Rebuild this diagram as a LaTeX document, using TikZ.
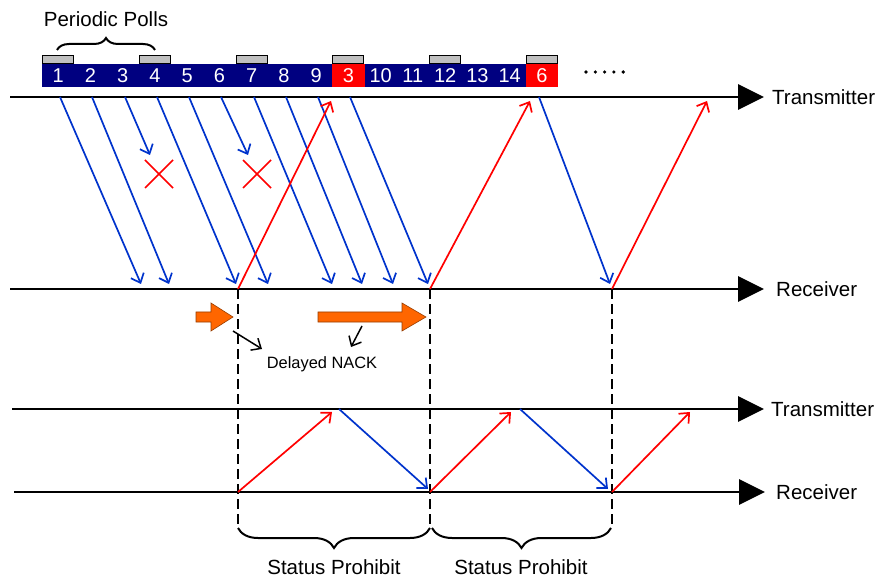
\documentclass[tikz,border=0pt]{standalone}
\usepackage{fontspec}
\setmainfont{Liberation Sans}
\usetikzlibrary{arrows.meta,decorations.pathreplacing}

\definecolor{barblue}{RGB}{0,0,128}
\definecolor{pktred}{RGB}{255,0,0}
\definecolor{pollgray}{RGB}{192,192,192}
\definecolor{msgblue}{RGB}{0,51,204}
\definecolor{nackorange}{RGB}{255,102,0}
\definecolor{nackedge}{RGB}{150,60,0}

\tikzset{
  axis/.style={line width=2.8pt,-{Triangle[length=26pt,width=25pt]}},
  axislabel/.style={anchor=west,inner sep=0pt,font=\fontsize{20.5}{24}\selectfont},
  cell/.style={rectangle,minimum width=32.25pt,minimum height=23pt,inner sep=0pt,
               fill=barblue,text=white,font=\fontsize{20}{23}\selectfont},
  lostcell/.style={cell,fill=pktred},
  pollbox/.style={rectangle,draw=black,line width=0.9pt,fill=pollgray,
                  minimum width=31pt,minimum height=8pt,inner sep=0pt},
  data/.style={draw=msgblue,line width=1.7pt,-{Straight Barb[length=8pt,width=14pt]}},
  status/.style={draw=pktred,line width=1.7pt,-{Straight Barb[length=8pt,width=14pt]}},
  pointer/.style={draw=black,line width=1.5pt,-{Straight Barb[length=8pt,width=14pt]}},
  timer/.style={line width=1.7pt,dash pattern=on 10pt off 5pt},
  lossmark/.style={draw=pktred,line width=1.6pt},
  curly/.style={line width=2pt,decorate,decoration={brace,amplitude=#1}},
  bigtext/.style={font=\fontsize{20.5}{24}\selectfont,inner sep=0pt},
  nacktext/.style={font=\fontsize{16.4}{19}\selectfont,inner sep=0pt},
}

\begin{document}
\begin{tikzpicture}[x=1pt,y=-1pt]
\useasboundingbox (0,0) rectangle (878,577);

% ---- transmission buffer (sequence numbers) ----
\foreach \k/\lab/\sty in {1/1/cell,2/2/cell,3/3/cell,4/4/cell,5/5/cell,6/6/cell,
    7/7/cell,8/8/cell,9/9/cell,10/3/lostcell,11/10/cell,12/11/cell,13/12/cell,
    14/13/cell,15/14/cell,16/6/lostcell}
  \node[\sty] (c\k) at ({42+32.25*(\k-0.5)},75.5) {\lab};

% poll bits on every third PDU
\foreach \k in {1,4,7,10,13,16}
  \node[pollbox,anchor=south] (p\k) at (c\k.north) {};

\node[bigtext] (polls) at (106,19) {Periodic Polls};
\draw[curly=12pt] (57,50) -- (155,50);

\foreach \i/\xx in {1/586,2/595.3,3/604.6,4/613.9,5/623.2}
  \fill (\xx,72) circle (1.8pt);

% ---- time axes ----
\coordinate (tx1a) at (10,97);   \coordinate (tx1b) at (764,97);
\coordinate (rx1a) at (10,289);  \coordinate (rx1b) at (764,289);
\coordinate (tx2a) at (12,409);  \coordinate (tx2b) at (764,409);
\coordinate (rx2a) at (14,492);  \coordinate (rx2b) at (765,492);
\draw[axis] (tx1a) -- (tx1b);
\draw[axis] (rx1a) -- (rx1b);
\draw[axis] (tx2a) -- (tx2b);
\draw[axis] (rx2a) -- (rx2b);
\node[axislabel] (ltx1) at (772,97) {Transmitter};
\node[axislabel] (lrx1) at (776,289) {Receiver};
\node[axislabel] (ltx2) at (771,409) {Transmitter};
\node[axislabel] (lrx2) at (776,492) {Receiver};

% ---- data PDUs, transmitter -> receiver ----
\foreach \n/\sx/\ex in {1/60/141,2/92/169,4/157/236,5/189/268,7/254/332,
    8/286/362,9/318/393,10/350/428,16/539/610}{
  \coordinate (s\n) at (\sx,97);
  \coordinate (e\n) at (\ex,284);
  \draw[data] (s\n) -- (e\n);
}
% lost PDUs
\coordinate (s3) at (125,97);  \coordinate (e3) at (150,155);
\coordinate (s6) at (221,97);  \coordinate (e6) at (248,155);
\draw[data] (s3) -- (e3);
\draw[data] (s6) -- (e6);
\foreach \m/\cx in {a/159,b/257}{
  \draw[lossmark] (\cx-14,160) -- (\cx+14,188);
  \draw[lossmark] (\cx-14,188) -- (\cx+14,160);
}

% ---- status reports, receiver -> transmitter ----
\coordinate (r1) at (238,289);  \coordinate (q1) at (331,101);
\coordinate (r2) at (430,289);  \coordinate (q2) at (530,101);
\coordinate (r3) at (612,289);  \coordinate (q3) at (707,101);
\draw[status] (r1) -- (q1);
\draw[status] (r2) -- (q2);
\draw[status] (r3) -- (q3);

% ---- status prohibit timer boundaries ----
\coordinate (d1b) at (238,528);
\coordinate (d2b) at (430,528);
\coordinate (d3b) at (612,528);
\draw[timer] (r1) -- (d1b);
\draw[timer] (r2) -- (d2b);
\draw[timer] (r3) -- (d3b);

% ---- delayed NACK indication ----
\draw[draw=nackedge,line width=0.6pt,fill=nackorange]
  (196,312) -- (211,312) -- (211,303) -- (233,317) -- (211,331) -- (211,322) -- (196,322) -- cycle;
\draw[draw=nackedge,line width=0.6pt,fill=nackorange]
  (318,312) -- (402,312) -- (402,303) -- (426,317) -- (402,331) -- (402,322) -- (318,322) -- cycle;
\node[nacktext] (nack) at (322,364) {Delayed NACK};
\coordinate (pa1) at (233,331);  \coordinate (pa2) at (262,349);
\coordinate (pb1) at (362,326);  \coordinate (pb2) at (351,347);
\draw[pointer] (pa1) -- (pa2);
\draw[pointer] (pb1) -- (pb2);

% ---- lower exchange ----
\coordinate (lr1) at (238,492);  \coordinate (lq1) at (332,412);
\coordinate (ls1) at (339,409);  \coordinate (le1) at (428,489);
\coordinate (lr2) at (430,492);  \coordinate (lq2) at (511,412);
\coordinate (ls2) at (520,409);  \coordinate (le2) at (608,489);
\coordinate (lr3) at (612,492);  \coordinate (lq3) at (690,412);
\draw[status] (lr1) -- (lq1);
\draw[data]   (ls1) -- (le1);
\draw[status] (lr2) -- (lq2);
\draw[data]   (ls2) -- (le2);
\draw[status] (lr3) -- (lq3);

% ---- status prohibit periods ----
\draw[curly=20pt] (430,528) -- (238,528);
\draw[curly=20pt] (611,528) -- (432,528);
\node[bigtext] (sp1) at (334,567) {Status Prohibit};
\node[bigtext] (sp2) at (521,567) {Status Prohibit};
\end{tikzpicture}
\end{document}
